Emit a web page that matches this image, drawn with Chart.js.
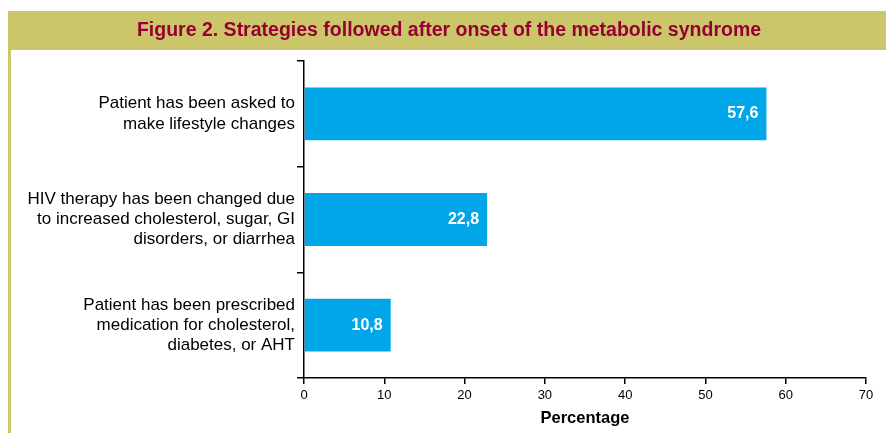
<!DOCTYPE html>
<html>
<head>
<meta charset="utf-8">
<script src="https://cdn.jsdelivr.net/npm/chart.js@4"></script>
<style>
  html, body { margin: 0; padding: 0; background: #fff; }
  #wrap { width: 886px; height: 433px; position: relative; }
</style>
</head>
<body>
<div id="wrap"><canvas id="strategyChart"></canvas></div>
<script>
var titleText = 'Figure 2. Strategies followed after onset of the metabolic syndrome';
var categories = [
    ['Patient has been asked to', 'make lifestyle changes'],
    ['HIV therapy has been changed due', 'to increased cholesterol, sugar, GI', 'disorders, or diarrhea'],
    ['Patient has been prescribed', 'medication for cholesterol,', 'diabetes, or AHT']
];
var percentages = [57.6, 22.8, 10.8];
var xTicks = [0, 10, 20, 30, 40, 50, 60, 70];

var frameColor = '#cbc66a';
var titleColor = '#960034';
var barColor = '#00a6e8';

// title bar + left frame line
var framePlugin = {
    id: 'frame',
    beforeDraw: function (chart) {
        var c = chart.ctx;
        c.save();
        c.fillStyle = frameColor;
        c.fillRect(8, 11, chart.width - 8, 39);
        c.fillRect(8, 50, 3, chart.height - 50);
        c.fillStyle = titleColor;
        c.font = 'bold 19.5px "Liberation Sans", Arial, sans-serif';
        c.textAlign = 'center';
        c.textBaseline = 'middle';
        c.fillText(titleText, 449, 31);
        c.restore();
    }
};

// value labels inside the bars, decimal comma
var valuePlugin = {
    id: 'values',
    afterDatasetsDraw: function (chart) {
        var c = chart.ctx;
        var meta = chart.getDatasetMeta(0);
        c.save();
        c.fillStyle = '#ffffff';
        c.font = 'bold 16px "Liberation Sans", Arial, sans-serif';
        c.textAlign = 'right';
        c.textBaseline = 'middle';
        meta.data.forEach(function (bar, i) {
            c.fillText(percentages[i].toFixed(1).replace('.', ','), bar.x - 8, bar.y);
        });
        c.restore();
    }
};

var ctx = document.getElementById('strategyChart').getContext('2d');
var myChart = new Chart(ctx, {
    type: 'bar',
    data: {
        labels: categories,
        datasets: [{
            data: percentages,
            backgroundColor: barColor,
            borderWidth: 0,
            barPercentage: 0.5,
            categoryPercentage: 1.0
        }]
    },
    options: {
        indexAxis: 'y',
        responsive: true,
        maintainAspectRatio: false,
        animation: false,
        layout: { padding: { top: 61, right: 20, bottom: 0, left: 0 } },
        plugins: {
            legend: { display: false },
            tooltip: { enabled: false }
        },
        scales: {
            x: {
                min: 0,
                max: 70,
                afterBuildTicks: function (axis) {
                    axis.ticks = xTicks.map(function (v) { return { value: v }; });
                },
                afterFit: function (axis) { axis.height = 55; },
                border: { color: '#000', width: 1.5 },
                grid: { drawOnChartArea: false, tickLength: 6, color: '#000', lineWidth: 1.5 },
                ticks: {
                    color: '#000',
                    padding: 4,
                    font: { family: '"Liberation Sans", Arial, sans-serif', size: 13 }
                },
                title: {
                    display: true,
                    text: 'Percentage',
                    color: '#000',
                    padding: { top: 0, bottom: 5 },
                    font: { family: '"Liberation Sans", Arial, sans-serif', size: 16.5, weight: 'bold' }
                }
            },
            y: {
                afterFit: function (axis) { axis.width = 304; },
                border: { color: '#000', width: 1.5 },
                grid: { drawOnChartArea: false, tickLength: 7, color: '#000', lineWidth: 1.5, offset: true },
                ticks: {
                    color: '#000',
                    padding: 2,
                    font: { family: '"Liberation Sans", Arial, sans-serif', size: 17, lineHeight: 1.18 }
                }
            }
        }
    },
    plugins: [framePlugin, valuePlugin]
});
</script>
</body>
</html>
